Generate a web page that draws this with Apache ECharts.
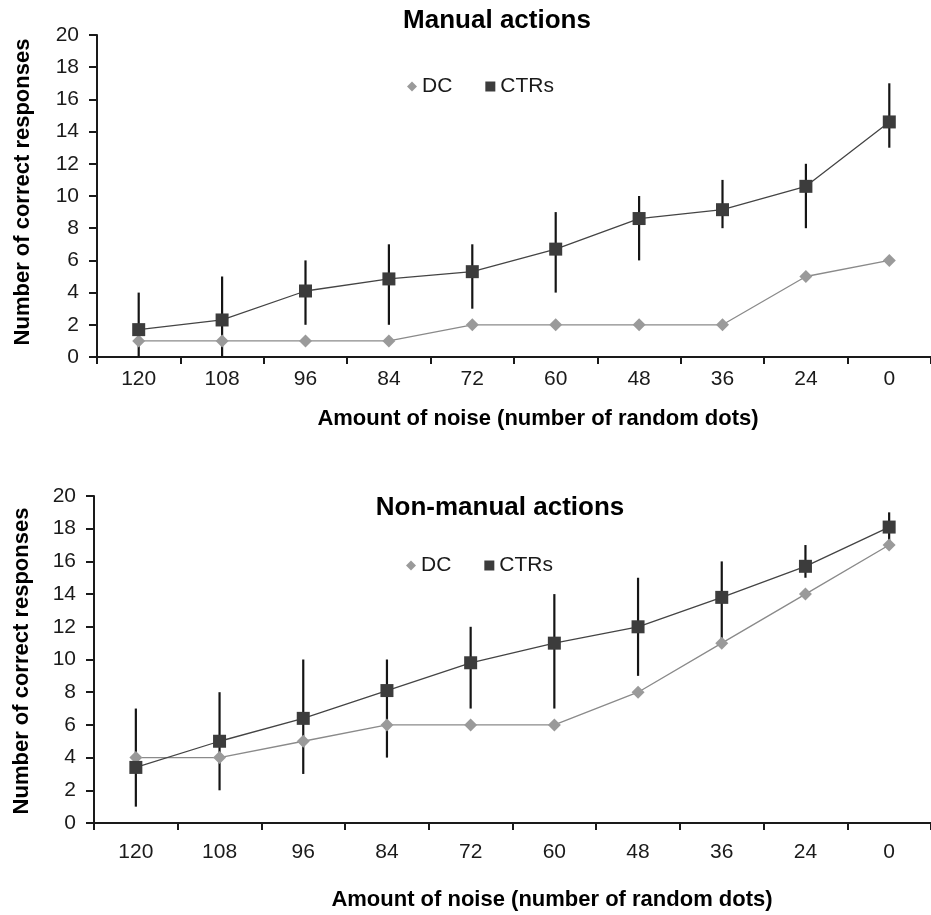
<!DOCTYPE html>
<html>
<head>
<meta charset="utf-8">
<script src="https://cdn.jsdelivr.net/npm/echarts@6/dist/echarts.min.js"></script>
<style>
html,body{margin:0;padding:0;background:#fff;}
#chart{width:931px;height:915px;}
</style>
</head>
<body>
<div id="chart"></div>
<script>
// ---- data ----
const noiseLevels = ['120','108','96','84','72','60','48','36','24','0'];
const yTicks = [0,2,4,6,8,10,12,14,16,18,20];

const manualDC   = [1,1,1,1,2,2,2,2,5,6];
const manualCTR  = [1.7,2.3,4.1,4.85,5.3,6.7,8.6,9.15,10.6,14.6];
const manualCTRLow  = [0,0,2,2,3,4,6,8,8,13];
const manualCTRHigh = [4,5,6,7,7,9,10,11,12,17];

const nonManualDC   = [4,4,5,6,6,6,8,11,14,17];
const nonManualCTR  = [3.4,5.0,6.4,8.1,9.8,11.0,12.0,13.8,15.7,18.1];
const nonManualCTRLow  = [1,2,3,4,7,7,9,11,15,17];
const nonManualCTRHigh = [7,8,10,10,12,14,15,16,17,19];

const titles = ['Manual actions', 'Non-manual actions'];
const xName = 'Amount of noise (number of random dots)';
const yName = 'Number of correct responses';

// ---- styling ----
const FONT = '"Liberation Sans", Arial, sans-serif';
const AXIS_COLOR = '#1a1a1a';
const DC_COLOR = '#9a9a9a';
const CTR_COLOR = '#3c3c3c';

const chart = echarts.init(document.getElementById('chart'), null, {renderer:'canvas'});

function errData(lo, hi){ return lo.map((v,i)=>[i, v, hi[i]]); }

function renderErr(params, api){
  const x = api.value(0);
  const a = api.coord([x, api.value(1)]);
  const b = api.coord([x, api.value(2)]);
  return {type:'line', shape:{x1:a[0], y1:a[1], x2:b[0], y2:b[1]},
          style:{stroke:'#151515', lineWidth:2.2}};
}

function xAxisCfg(gi, margin){
  return {
    type:'category', gridIndex:gi, data:noiseLevels, boundaryGap:true,
    axisLine:{show:true, lineStyle:{color:AXIS_COLOR, width:2}},
    axisTick:{show:true, length:7, lineStyle:{color:AXIS_COLOR, width:2}},
    axisLabel:{color:AXIS_COLOR, fontSize:21, fontFamily:FONT, margin:margin},
    splitLine:{show:false}
  };
}
function yAxisCfg(gi){
  return {
    type:'value', gridIndex:gi, min:yTicks[0], max:yTicks[yTicks.length-1], interval:yTicks[1]-yTicks[0],
    axisLine:{show:true, lineStyle:{color:AXIS_COLOR, width:2}},
    axisTick:{show:true, length:8, lineStyle:{color:AXIS_COLOR, width:2}},
    axisLabel:{color:AXIS_COLOR, fontSize:21, fontFamily:FONT, margin:18},
    splitLine:{show:false}
  };
}

function legendCfg(left, top){
  return {
    left:left, top:top, orient:'horizontal', padding:0,
    itemWidth:10, itemHeight:10, itemGap:33,
    textStyle:{fontSize:21, fontFamily:FONT, color:AXIS_COLOR},
    data:[{name:'DC', icon:'diamond'}, {name:'CTRs', icon:'rect'}],
    selectedMode:false
  };
}

function txt(text, x, y, size, bold, rot){
  return {type:'text', x:x, y:y, rotation:rot||0,
    style:{text:text, fontSize:size, fontWeight:bold?'bold':'normal', fontFamily:FONT,
           fill:'#000', textAlign:'center', textVerticalAlign:'middle'}};
}

const option = {
  backgroundColor:'#fff',
  animation:false,
  grid:[
    {left:97, top:35, width:841, height:322},
    {left:94, top:496, width:844, height:327}
  ],
  xAxis:[xAxisCfg(0, 12), xAxisCfg(1, 19)],
  yAxis:[yAxisCfg(0), yAxisCfg(1)],
  legend:[legendCfg(407, 76), legendCfg(406, 555)],
  graphic:[
    txt(titles[0], 497, 21, 26, true),
    txt(titles[1], 500, 508, 26, true),
    txt(xName, 538, 419, 22, true),
    txt(xName, 552, 900, 22, true),
    txt(yName, 23, 192, 22, true, Math.PI/2),
    txt(yName, 22, 661, 22, true, Math.PI/2)
  ],
  series:[
    {type:'custom', name:'errManual', xAxisIndex:0, yAxisIndex:0, renderItem:renderErr,
     encode:{x:0, y:[1,2]}, data:errData(manualCTRLow, manualCTRHigh), z:1, silent:true},
    {type:'custom', name:'errNonManual', xAxisIndex:1, yAxisIndex:1, renderItem:renderErr,
     encode:{x:0, y:[1,2]}, data:errData(nonManualCTRLow, nonManualCTRHigh), z:1, silent:true},
    {type:'line', name:'DC', xAxisIndex:0, yAxisIndex:0, data:manualDC, symbol:'diamond', symbolSize:13,
     itemStyle:{color:DC_COLOR}, lineStyle:{color:'#8a8a8a', width:1.3}, z:3},
    {type:'line', name:'CTRs', xAxisIndex:0, yAxisIndex:0, data:manualCTR, symbol:'rect', symbolSize:13,
     itemStyle:{color:CTR_COLOR}, lineStyle:{color:'#444', width:1.3}, z:4},
    {type:'line', name:'DC', xAxisIndex:1, yAxisIndex:1, data:nonManualDC, symbol:'diamond', symbolSize:13,
     itemStyle:{color:DC_COLOR}, lineStyle:{color:'#8a8a8a', width:1.3}, z:3},
    {type:'line', name:'CTRs', xAxisIndex:1, yAxisIndex:1, data:nonManualCTR, symbol:'rect', symbolSize:13,
     itemStyle:{color:CTR_COLOR}, lineStyle:{color:'#444', width:1.3}, z:4}
  ]
};
chart.setOption(option);
</script>
</body>
</html>
